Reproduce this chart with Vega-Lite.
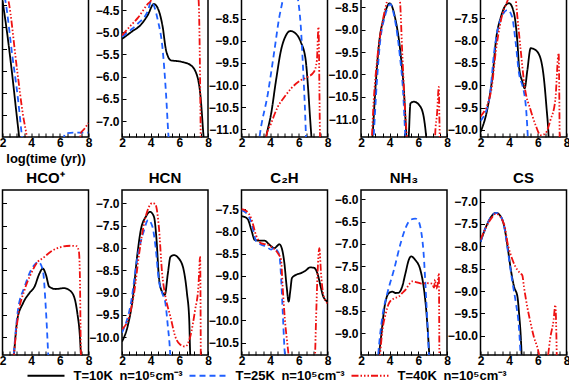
{
"$schema": "https://vega.github.io/schema/vega-lite/v6.json",
"padding": {"left": -2.5, "top": -29, "right": 0, "bottom": 0},
"background": "white",
"data": {"values": [
{"p":"T1","s":"10K","x":2.0,"y":-7.9},{"p":"T1","s":"10K","x":2.34,"y":-8.68},{"p":"T1","s":"10K","x":2.68,"y":-9.59},{"p":"T1","s":"10K","x":2.95,"y":-10.39},{"p":"T1","s":"10K","x":3.16,"y":-11.0},{"p":"T1","s":"10K","x":3.35,"y":-11.6},
{"p":"T1","s":"25K","x":2.0,"y":-7.6},{"p":"T1","s":"25K","x":2.2,"y":-7.9},{"p":"T1","s":"25K","x":2.68,"y":-9.14},{"p":"T1","s":"25K","x":3.09,"y":-10.16},{"p":"T1","s":"25K","x":3.36,"y":-11.0},{"p":"T1","s":"25K","x":3.5,"y":-11.4},{"p":"T1","s":"25K","x":6.1,"y":-11.6},{"p":"T1","s":"25K","x":6.35,"y":-10.92},{"p":"T1","s":"25K","x":7.0,"y":-10.9},{"p":"T1","s":"25K","x":8.0,"y":-10.9},
{"p":"T1","s":"40K","x":2.0,"y":-7.5},{"p":"T1","s":"40K","x":2.41,"y":-7.89},{"p":"T1","s":"40K","x":3.02,"y":-9.48},{"p":"T1","s":"40K","x":3.43,"y":-10.5},{"p":"T1","s":"40K","x":3.7,"y":-11.0},{"p":"T1","s":"40K","x":3.9,"y":-11.5},{"p":"T1","s":"40K","x":7.35,"y":-11.5},{"p":"T1","s":"40K","x":7.45,"y":-10.92},{"p":"T1","s":"40K","x":7.7,"y":-10.82},{"p":"T1","s":"40K","x":8.0,"y":-10.68},
{"p":"T2","s":"10K","x":2.0,"y":-5.15},{"p":"T2","s":"10K","x":2.66,"y":-4.99},{"p":"T2","s":"10K","x":3.34,"y":-4.82},{"p":"T2","s":"10K","x":3.8,"y":-4.61},{"p":"T2","s":"10K","x":4.22,"y":-4.36},{"p":"T2","s":"10K","x":4.5,"y":-4.46},{"p":"T2","s":"10K","x":4.84,"y":-4.88},{"p":"T2","s":"10K","x":5.07,"y":-5.4},{"p":"T2","s":"10K","x":5.41,"y":-5.63},{"p":"T2","s":"10K","x":6.1,"y":-5.66},{"p":"T2","s":"10K","x":6.79,"y":-5.74},{"p":"T2","s":"10K","x":7.26,"y":-6.0},{"p":"T2","s":"10K","x":7.48,"y":-6.45},{"p":"T2","s":"10K","x":7.67,"y":-7.27},{"p":"T2","s":"10K","x":7.75,"y":-7.6},
{"p":"T2","s":"25K","x":2.0,"y":-5.1},{"p":"T2","s":"25K","x":2.6,"y":-4.95},{"p":"T2","s":"25K","x":3.12,"y":-4.8},{"p":"T2","s":"25K","x":3.8,"y":-4.52},{"p":"T2","s":"25K","x":4.03,"y":-4.31},{"p":"T2","s":"25K","x":4.5,"y":-4.73},{"p":"T2","s":"25K","x":4.84,"y":-5.4},{"p":"T2","s":"25K","x":5.07,"y":-6.38},{"p":"T2","s":"25K","x":5.23,"y":-7.28},{"p":"T2","s":"25K","x":5.3,"y":-7.6},
{"p":"T2","s":"40K","x":2.0,"y":-5.07},{"p":"T2","s":"40K","x":2.6,"y":-4.85},{"p":"T2","s":"40K","x":3.12,"y":-4.67},{"p":"T2","s":"40K","x":3.8,"y":-4.36},{"p":"T2","s":"40K","x":4.03,"y":-4.28},{"p":"T2","s":"40K","x":4.3,"y":-4.0},{"p":"T2","s":"40K","x":5.5,"y":-3.9},{"p":"T2","s":"40K","x":7.2,"y":-3.9},{"p":"T2","s":"40K","x":7.35,"y":-4.3},{"p":"T2","s":"40K","x":7.5,"y":-7.6},
{"p":"T3","s":"10K","x":3.5,"y":-11.6},{"p":"T3","s":"10K","x":3.72,"y":-11.17},{"p":"T3","s":"10K","x":4.07,"y":-10.64},{"p":"T3","s":"10K","x":4.41,"y":-9.89},{"p":"T3","s":"10K","x":4.76,"y":-9.21},{"p":"T3","s":"10K","x":5.1,"y":-8.88},{"p":"T3","s":"10K","x":5.4,"y":-8.78},{"p":"T3","s":"10K","x":5.79,"y":-8.84},{"p":"T3","s":"10K","x":6.14,"y":-9.03},{"p":"T3","s":"10K","x":6.48,"y":-9.44},{"p":"T3","s":"10K","x":6.64,"y":-10.04},{"p":"T3","s":"10K","x":6.78,"y":-10.72},{"p":"T3","s":"10K","x":6.88,"y":-11.17},{"p":"T3","s":"10K","x":7.0,"y":-11.6},
{"p":"T3","s":"25K","x":3.1,"y":-11.6},{"p":"T3","s":"25K","x":3.26,"y":-11.17},{"p":"T3","s":"25K","x":3.84,"y":-10.19},{"p":"T3","s":"25K","x":4.3,"y":-9.21},{"p":"T3","s":"25K","x":4.64,"y":-8.46},{"p":"T3","s":"25K","x":4.83,"y":-8.16},{"p":"T3","s":"25K","x":5.0,"y":-7.85},{"p":"T3","s":"25K","x":5.4,"y":-7.6},{"p":"T3","s":"25K","x":5.8,"y":-7.85},{"p":"T3","s":"25K","x":5.95,"y":-8.09},{"p":"T3","s":"25K","x":6.14,"y":-8.69},{"p":"T3","s":"25K","x":6.29,"y":-9.59},{"p":"T3","s":"25K","x":6.45,"y":-10.72},{"p":"T3","s":"25K","x":6.5,"y":-11.17},{"p":"T3","s":"25K","x":6.6,"y":-11.6},
{"p":"T3","s":"40K","x":3.6,"y":-11.6},{"p":"T3","s":"40K","x":3.72,"y":-11.17},{"p":"T3","s":"40K","x":4.07,"y":-10.86},{"p":"T3","s":"40K","x":4.53,"y":-10.49},{"p":"T3","s":"40K","x":4.99,"y":-10.27},{"p":"T3","s":"40K","x":5.45,"y":-10.08},{"p":"T3","s":"40K","x":6.14,"y":-9.89},{"p":"T3","s":"40K","x":6.6,"y":-9.82},{"p":"T3","s":"40K","x":7.06,"y":-9.7},{"p":"T3","s":"40K","x":7.26,"y":-9.44},{"p":"T3","s":"40K","x":7.37,"y":-8.69},{"p":"T3","s":"40K","x":7.48,"y":-11.17},{"p":"T3","s":"40K","x":7.55,"y":-11.6},
{"p":"T4","s":"10K","x":2.7,"y":-11.8},{"p":"T4","s":"10K","x":2.8,"y":-11.4},{"p":"T4","s":"10K","x":3.03,"y":-10.2},{"p":"T4","s":"10K","x":3.26,"y":-9.31},{"p":"T4","s":"10K","x":3.61,"y":-8.71},{"p":"T4","s":"10K","x":4.0,"y":-8.41},{"p":"T4","s":"10K","x":4.41,"y":-8.78},{"p":"T4","s":"10K","x":4.76,"y":-9.53},{"p":"T4","s":"10K","x":4.99,"y":-10.35},{"p":"T4","s":"10K","x":5.17,"y":-11.4},{"p":"T4","s":"10K","x":5.25,"y":-11.8},{"p":"T4","s":"10K","x":5.33,"y":-11.4},{"p":"T4","s":"10K","x":5.45,"y":-10.65},{"p":"T4","s":"10K","x":5.68,"y":-10.61},{"p":"T4","s":"10K","x":6.14,"y":-10.72},{"p":"T4","s":"10K","x":6.41,"y":-11.02},{"p":"T4","s":"10K","x":6.55,"y":-11.4},{"p":"T4","s":"10K","x":6.65,"y":-11.8},
{"p":"T4","s":"25K","x":2.8,"y":-11.8},{"p":"T4","s":"25K","x":2.88,"y":-11.4},{"p":"T4","s":"25K","x":3.1,"y":-10.2},{"p":"T4","s":"25K","x":3.32,"y":-9.31},{"p":"T4","s":"25K","x":3.66,"y":-8.71},{"p":"T4","s":"25K","x":4.05,"y":-8.43},{"p":"T4","s":"25K","x":4.35,"y":-8.75},{"p":"T4","s":"25K","x":4.7,"y":-9.55},{"p":"T4","s":"25K","x":4.93,"y":-10.35},{"p":"T4","s":"25K","x":5.1,"y":-11.4},{"p":"T4","s":"25K","x":5.2,"y":-11.8},
{"p":"T4","s":"40K","x":2.7,"y":-11.8},{"p":"T4","s":"40K","x":2.76,"y":-11.4},{"p":"T4","s":"40K","x":2.85,"y":-10.8},{"p":"T4","s":"40K","x":3.15,"y":-9.6},{"p":"T4","s":"40K","x":3.53,"y":-8.78},{"p":"T4","s":"40K","x":3.81,"y":-8.37},{"p":"T4","s":"40K","x":4.3,"y":-8.0},{"p":"T4","s":"40K","x":4.71,"y":-8.34},{"p":"T4","s":"40K","x":4.87,"y":-9.46},{"p":"T4","s":"40K","x":5.1,"y":-10.95},{"p":"T4","s":"40K","x":5.2,"y":-11.4},{"p":"T4","s":"40K","x":5.3,"y":-11.8},{"p":"T4","s":"40K","x":7.1,"y":-11.8},{"p":"T4","s":"40K","x":7.2,"y":-11.2},{"p":"T4","s":"40K","x":7.3,"y":-10.9},{"p":"T4","s":"40K","x":7.43,"y":-10.28},{"p":"T4","s":"40K","x":7.47,"y":-11.0},{"p":"T4","s":"40K","x":7.52,"y":-11.8},
{"p":"T5","s":"10K","x":2.0,"y":-10.05},{"p":"T5","s":"10K","x":2.51,"y":-9.48},{"p":"T5","s":"10K","x":2.86,"y":-8.73},{"p":"T5","s":"10K","x":3.08,"y":-7.99},{"p":"T5","s":"10K","x":3.43,"y":-7.46},{"p":"T5","s":"10K","x":3.77,"y":-7.2},{"p":"T5","s":"10K","x":4.0,"y":-7.16},{"p":"T5","s":"10K","x":4.34,"y":-7.39},{"p":"T5","s":"10K","x":4.58,"y":-8.06},{"p":"T5","s":"10K","x":4.69,"y":-8.59},{"p":"T5","s":"10K","x":4.92,"y":-8.92},{"p":"T5","s":"10K","x":5.08,"y":-9.07},{"p":"T5","s":"10K","x":5.27,"y":-8.66},{"p":"T5","s":"10K","x":5.5,"y":-8.17},{"p":"T5","s":"10K","x":5.84,"y":-8.21},{"p":"T5","s":"10K","x":6.19,"y":-8.4},{"p":"T5","s":"10K","x":6.41,"y":-8.81},{"p":"T5","s":"10K","x":6.6,"y":-9.48},{"p":"T5","s":"10K","x":6.74,"y":-10.08},{"p":"T5","s":"10K","x":6.8,"y":-10.5},
{"p":"T5","s":"25K","x":2.0,"y":-9.8},{"p":"T5","s":"25K","x":2.62,"y":-9.3},{"p":"T5","s":"25K","x":2.97,"y":-8.21},{"p":"T5","s":"25K","x":3.31,"y":-7.61},{"p":"T5","s":"25K","x":3.89,"y":-7.31},{"p":"T5","s":"25K","x":4.2,"y":-7.46},{"p":"T5","s":"25K","x":4.46,"y":-8.06},{"p":"T5","s":"25K","x":4.69,"y":-8.74},{"p":"T5","s":"25K","x":4.92,"y":-9.0},{"p":"T5","s":"25K","x":5.0,"y":-9.1},{"p":"T5","s":"25K","x":5.22,"y":-9.7},{"p":"T5","s":"25K","x":5.3,"y":-10.16},{"p":"T5","s":"25K","x":5.35,"y":-10.5},
{"p":"T5","s":"40K","x":2.0,"y":-9.7},{"p":"T5","s":"40K","x":2.74,"y":-9.13},{"p":"T5","s":"40K","x":3.08,"y":-8.21},{"p":"T5","s":"40K","x":3.43,"y":-7.54},{"p":"T5","s":"40K","x":3.89,"y":-7.1},{"p":"T5","s":"40K","x":4.2,"y":-6.85},{"p":"T5","s":"40K","x":4.46,"y":-7.09},{"p":"T5","s":"40K","x":4.58,"y":-7.49},{"p":"T5","s":"40K","x":4.81,"y":-8.23},{"p":"T5","s":"40K","x":5.08,"y":-9.03},{"p":"T5","s":"40K","x":5.5,"y":-9.56},{"p":"T5","s":"40K","x":5.84,"y":-9.89},{"p":"T5","s":"40K","x":6.19,"y":-10.12},{"p":"T5","s":"40K","x":6.53,"y":-10.08},{"p":"T5","s":"40K","x":6.88,"y":-9.78},{"p":"T5","s":"40K","x":7.22,"y":-9.33},{"p":"T5","s":"40K","x":7.45,"y":-8.28},{"p":"T5","s":"40K","x":7.53,"y":-10.5},
{"p":"B1","s":"10K","x":2.75,"y":-10.6},{"p":"B1","s":"10K","x":2.8,"y":-10.4},{"p":"B1","s":"10K","x":3.03,"y":-9.61},{"p":"B1","s":"10K","x":3.43,"y":-9.24},{"p":"B1","s":"10K","x":3.88,"y":-9.01},{"p":"B1","s":"10K","x":4.23,"y":-8.87},{"p":"B1","s":"10K","x":4.58,"y":-8.57},{"p":"B1","s":"10K","x":4.81,"y":-8.46},{"p":"B1","s":"10K","x":5.03,"y":-8.6},{"p":"B1","s":"10K","x":5.26,"y":-8.87},{"p":"B1","s":"10K","x":5.72,"y":-8.92},{"p":"B1","s":"10K","x":6.3,"y":-8.9},{"p":"B1","s":"10K","x":6.64,"y":-8.94},{"p":"B1","s":"10K","x":6.99,"y":-9.09},{"p":"B1","s":"10K","x":7.22,"y":-9.46},{"p":"B1","s":"10K","x":7.4,"y":-9.99},{"p":"B1","s":"10K","x":7.47,"y":-10.4},{"p":"B1","s":"10K","x":7.5,"y":-10.6},
{"p":"B1","s":"25K","x":2.73,"y":-10.6},{"p":"B1","s":"25K","x":2.78,"y":-10.4},{"p":"B1","s":"25K","x":3.08,"y":-9.39},{"p":"B1","s":"25K","x":3.54,"y":-8.87},{"p":"B1","s":"25K","x":4.0,"y":-8.49},{"p":"B1","s":"25K","x":4.34,"y":-8.34},{"p":"B1","s":"25K","x":4.5,"y":-8.31},{"p":"B1","s":"25K","x":4.81,"y":-8.49},{"p":"B1","s":"25K","x":5.03,"y":-9.39},{"p":"B1","s":"25K","x":5.19,"y":-10.4},{"p":"B1","s":"25K","x":5.22,"y":-10.6},
{"p":"B1","s":"40K","x":2.75,"y":-10.6},{"p":"B1","s":"40K","x":2.8,"y":-10.4},{"p":"B1","s":"40K","x":3.08,"y":-9.54},{"p":"B1","s":"40K","x":3.54,"y":-8.94},{"p":"B1","s":"40K","x":4.0,"y":-8.57},{"p":"B1","s":"40K","x":4.46,"y":-8.31},{"p":"B1","s":"40K","x":4.81,"y":-8.23},{"p":"B1","s":"40K","x":5.38,"y":-8.08},{"p":"B1","s":"40K","x":6.07,"y":-7.98},{"p":"B1","s":"40K","x":6.76,"y":-7.95},{"p":"B1","s":"40K","x":7.17,"y":-7.96},{"p":"B1","s":"40K","x":7.33,"y":-8.08},{"p":"B1","s":"40K","x":7.4,"y":-8.64},{"p":"B1","s":"40K","x":7.47,"y":-10.4},{"p":"B1","s":"40K","x":7.5,"y":-10.6},
{"p":"B2","s":"10K","x":2.0,"y":-10.1},{"p":"B2","s":"10K","x":2.39,"y":-9.76},{"p":"B2","s":"10K","x":2.74,"y":-9.16},{"p":"B2","s":"10K","x":3.08,"y":-8.12},{"p":"B2","s":"10K","x":3.31,"y":-7.6},{"p":"B2","s":"10K","x":3.66,"y":-7.3},{"p":"B2","s":"10K","x":3.96,"y":-7.19},{"p":"B2","s":"10K","x":4.23,"y":-7.3},{"p":"B2","s":"10K","x":4.41,"y":-7.82},{"p":"B2","s":"10K","x":4.57,"y":-8.64},{"p":"B2","s":"10K","x":4.74,"y":-8.94},{"p":"B2","s":"10K","x":4.99,"y":-9.05},{"p":"B2","s":"10K","x":5.2,"y":-8.57},{"p":"B2","s":"10K","x":5.38,"y":-8.2},{"p":"B2","s":"10K","x":5.61,"y":-8.16},{"p":"B2","s":"10K","x":5.95,"y":-8.23},{"p":"B2","s":"10K","x":6.3,"y":-8.49},{"p":"B2","s":"10K","x":6.53,"y":-9.01},{"p":"B2","s":"10K","x":6.69,"y":-9.61},{"p":"B2","s":"10K","x":6.76,"y":-10.4},{"p":"B2","s":"10K","x":6.8,"y":-10.6},
{"p":"B2","s":"25K","x":2.0,"y":-9.9},{"p":"B2","s":"25K","x":2.62,"y":-9.24},{"p":"B2","s":"25K","x":3.08,"y":-8.2},{"p":"B2","s":"25K","x":3.54,"y":-7.6},{"p":"B2","s":"25K","x":3.82,"y":-7.37},{"p":"B2","s":"25K","x":4.12,"y":-7.52},{"p":"B2","s":"25K","x":4.34,"y":-7.97},{"p":"B2","s":"25K","x":4.57,"y":-8.72},{"p":"B2","s":"25K","x":4.8,"y":-9.01},{"p":"B2","s":"25K","x":5.03,"y":-9.24},{"p":"B2","s":"25K","x":5.2,"y":-9.76},{"p":"B2","s":"25K","x":5.33,"y":-10.21},{"p":"B2","s":"25K","x":5.4,"y":-10.6},
{"p":"B2","s":"40K","x":2.0,"y":-9.82},{"p":"B2","s":"40K","x":2.5,"y":-9.54},{"p":"B2","s":"40K","x":2.85,"y":-9.0},{"p":"B2","s":"40K","x":3.2,"y":-8.12},{"p":"B2","s":"40K","x":3.54,"y":-7.45},{"p":"B2","s":"40K","x":3.88,"y":-7.08},{"p":"B2","s":"40K","x":4.12,"y":-6.99},{"p":"B2","s":"40K","x":4.34,"y":-7.03},{"p":"B2","s":"40K","x":4.57,"y":-7.52},{"p":"B2","s":"40K","x":4.8,"y":-8.57},{"p":"B2","s":"40K","x":5.03,"y":-9.09},{"p":"B2","s":"40K","x":5.38,"y":-9.54},{"p":"B2","s":"40K","x":5.72,"y":-9.99},{"p":"B2","s":"40K","x":6.07,"y":-10.17},{"p":"B2","s":"40K","x":6.41,"y":-10.21},{"p":"B2","s":"40K","x":6.76,"y":-9.99},{"p":"B2","s":"40K","x":7.1,"y":-9.39},{"p":"B2","s":"40K","x":7.33,"y":-8.87},{"p":"B2","s":"40K","x":7.45,"y":-8.2},{"p":"B2","s":"40K","x":7.5,"y":-10.6},
{"p":"B3","s":"10K","x":2.0,"y":-7.66},{"p":"B3","s":"10K","x":2.25,"y":-7.68},{"p":"B3","s":"10K","x":2.46,"y":-7.74},{"p":"B3","s":"10K","x":2.69,"y":-7.97},{"p":"B3","s":"10K","x":2.92,"y":-8.19},{"p":"B3","s":"10K","x":3.26,"y":-8.21},{"p":"B3","s":"10K","x":3.61,"y":-8.21},{"p":"B3","s":"10K","x":3.95,"y":-8.3},{"p":"B3","s":"10K","x":4.3,"y":-8.38},{"p":"B3","s":"10K","x":4.48,"y":-8.33},{"p":"B3","s":"10K","x":4.64,"y":-8.29},{"p":"B3","s":"10K","x":4.81,"y":-8.38},{"p":"B3","s":"10K","x":4.99,"y":-8.71},{"p":"B3","s":"10K","x":5.15,"y":-9.24},{"p":"B3","s":"10K","x":5.29,"y":-9.58},{"p":"B3","s":"10K","x":5.4,"y":-9.35},{"p":"B3","s":"10K","x":5.52,"y":-9.05},{"p":"B3","s":"10K","x":5.79,"y":-8.98},{"p":"B3","s":"10K","x":6.14,"y":-8.94},{"p":"B3","s":"10K","x":6.48,"y":-8.88},{"p":"B3","s":"10K","x":6.78,"y":-8.81},{"p":"B3","s":"10K","x":7.06,"y":-8.82},{"p":"B3","s":"10K","x":7.33,"y":-8.98},{"p":"B3","s":"10K","x":7.52,"y":-9.24},{"p":"B3","s":"10K","x":7.7,"y":-9.46},{"p":"B3","s":"10K","x":8.0,"y":-9.58},
{"p":"B3","s":"25K","x":2.0,"y":-7.53},{"p":"B3","s":"25K","x":2.34,"y":-7.59},{"p":"B3","s":"25K","x":2.69,"y":-7.8},{"p":"B3","s":"25K","x":3.03,"y":-8.23},{"p":"B3","s":"25K","x":3.38,"y":-8.3},{"p":"B3","s":"25K","x":3.72,"y":-8.34},{"p":"B3","s":"25K","x":4.07,"y":-8.41},{"p":"B3","s":"25K","x":4.3,"y":-8.36},{"p":"B3","s":"25K","x":4.48,"y":-8.43},{"p":"B3","s":"25K","x":4.64,"y":-8.53},{"p":"B3","s":"25K","x":4.76,"y":-9.02},{"p":"B3","s":"25K","x":4.87,"y":-9.76},{"p":"B3","s":"25K","x":4.99,"y":-10.59},{"p":"B3","s":"25K","x":5.03,"y":-10.8},{"p":"B3","s":"25K","x":5.06,"y":-11.0},
{"p":"B3","s":"40K","x":2.0,"y":-7.5},{"p":"B3","s":"40K","x":2.34,"y":-7.54},{"p":"B3","s":"40K","x":2.69,"y":-7.72},{"p":"B3","s":"40K","x":3.03,"y":-8.1},{"p":"B3","s":"40K","x":3.38,"y":-8.27},{"p":"B3","s":"40K","x":3.84,"y":-8.3},{"p":"B3","s":"40K","x":4.18,"y":-8.37},{"p":"B3","s":"40K","x":4.53,"y":-8.49},{"p":"B3","s":"40K","x":4.76,"y":-8.64},{"p":"B3","s":"40K","x":4.87,"y":-9.24},{"p":"B3","s":"40K","x":5.03,"y":-9.99},{"p":"B3","s":"40K","x":5.22,"y":-10.59},{"p":"B3","s":"40K","x":5.29,"y":-10.8},{"p":"B3","s":"40K","x":5.35,"y":-11.0},{"p":"B3","s":"40K","x":7.1,"y":-11.0},{"p":"B3","s":"40K","x":7.13,"y":-10.8},{"p":"B3","s":"40K","x":7.2,"y":-10.0},{"p":"B3","s":"40K","x":7.3,"y":-9.0},{"p":"B3","s":"40K","x":7.43,"y":-8.38},{"p":"B3","s":"40K","x":7.55,"y":-8.95},{"p":"B3","s":"40K","x":7.7,"y":-9.4},{"p":"B3","s":"40K","x":8.0,"y":-9.62},
{"p":"B4","s":"10K","x":3.2,"y":-9.7},{"p":"B4","s":"10K","x":3.26,"y":-9.49},{"p":"B4","s":"10K","x":3.43,"y":-9.0},{"p":"B4","s":"10K","x":3.61,"y":-8.48},{"p":"B4","s":"10K","x":3.95,"y":-8.1},{"p":"B4","s":"10K","x":4.19,"y":-8.07},{"p":"B4","s":"10K","x":4.41,"y":-8.1},{"p":"B4","s":"10K","x":4.64,"y":-8.09},{"p":"B4","s":"10K","x":4.87,"y":-7.96},{"p":"B4","s":"10K","x":5.1,"y":-7.66},{"p":"B4","s":"10K","x":5.33,"y":-7.36},{"p":"B4","s":"10K","x":5.49,"y":-7.28},{"p":"B4","s":"10K","x":5.79,"y":-7.36},{"p":"B4","s":"10K","x":6.14,"y":-7.58},{"p":"B4","s":"10K","x":6.37,"y":-7.96},{"p":"B4","s":"10K","x":6.55,"y":-8.48},{"p":"B4","s":"10K","x":6.67,"y":-9.0},{"p":"B4","s":"10K","x":6.78,"y":-9.55},{"p":"B4","s":"10K","x":6.85,"y":-9.8},
{"p":"B4","s":"25K","x":3.15,"y":-9.7},{"p":"B4","s":"25K","x":3.2,"y":-9.49},{"p":"B4","s":"25K","x":3.49,"y":-8.63},{"p":"B4","s":"25K","x":3.84,"y":-8.1},{"p":"B4","s":"25K","x":4.3,"y":-7.58},{"p":"B4","s":"25K","x":4.76,"y":-6.99},{"p":"B4","s":"25K","x":5.1,"y":-6.65},{"p":"B4","s":"25K","x":5.45,"y":-6.46},{"p":"B4","s":"25K","x":5.79,"y":-6.43},{"p":"B4","s":"25K","x":5.98,"y":-6.47},{"p":"B4","s":"25K","x":6.14,"y":-6.62},{"p":"B4","s":"25K","x":6.37,"y":-7.22},{"p":"B4","s":"25K","x":6.55,"y":-8.25},{"p":"B4","s":"25K","x":6.67,"y":-9.0},{"p":"B4","s":"25K","x":6.74,"y":-9.49},{"p":"B4","s":"25K","x":6.8,"y":-9.8},
{"p":"B4","s":"40K","x":3.28,"y":-9.7},{"p":"B4","s":"40K","x":3.33,"y":-9.49},{"p":"B4","s":"40K","x":3.49,"y":-8.95},{"p":"B4","s":"40K","x":3.72,"y":-8.57},{"p":"B4","s":"40K","x":3.95,"y":-8.33},{"p":"B4","s":"40K","x":4.3,"y":-8.22},{"p":"B4","s":"40K","x":4.64,"y":-8.18},{"p":"B4","s":"40K","x":4.87,"y":-8.1},{"p":"B4","s":"40K","x":5.1,"y":-8.03},{"p":"B4","s":"40K","x":5.33,"y":-7.92},{"p":"B4","s":"40K","x":5.56,"y":-7.84},{"p":"B4","s":"40K","x":5.91,"y":-7.86},{"p":"B4","s":"40K","x":6.26,"y":-7.89},{"p":"B4","s":"40K","x":6.6,"y":-7.88},{"p":"B4","s":"40K","x":6.95,"y":-7.89},{"p":"B4","s":"40K","x":7.1,"y":-7.98},{"p":"B4","s":"40K","x":7.17,"y":-7.8},{"p":"B4","s":"40K","x":7.24,"y":-8.0},{"p":"B4","s":"40K","x":7.33,"y":-7.95},{"p":"B4","s":"40K","x":7.43,"y":-7.66},{"p":"B4","s":"40K","x":7.47,"y":-9.8},
{"p":"B5","s":"10K","x":2.0,"y":-7.9},{"p":"B5","s":"10K","x":2.39,"y":-7.56},{"p":"B5","s":"10K","x":2.74,"y":-7.34},{"p":"B5","s":"10K","x":3.08,"y":-7.25},{"p":"B5","s":"10K","x":3.43,"y":-7.34},{"p":"B5","s":"10K","x":3.66,"y":-7.56},{"p":"B5","s":"10K","x":3.89,"y":-8.01},{"p":"B5","s":"10K","x":4.12,"y":-8.53},{"p":"B5","s":"10K","x":4.34,"y":-8.9},{"p":"B5","s":"10K","x":4.58,"y":-9.13},{"p":"B5","s":"10K","x":4.69,"y":-9.5},{"p":"B5","s":"10K","x":4.81,"y":-10.02},{"p":"B5","s":"10K","x":4.88,"y":-10.5},
{"p":"B5","s":"25K","x":2.0,"y":-7.9},{"p":"B5","s":"25K","x":2.39,"y":-7.56},{"p":"B5","s":"25K","x":2.74,"y":-7.34},{"p":"B5","s":"25K","x":3.08,"y":-7.25},{"p":"B5","s":"25K","x":3.43,"y":-7.34},{"p":"B5","s":"25K","x":3.66,"y":-7.57},{"p":"B5","s":"25K","x":3.89,"y":-8.06},{"p":"B5","s":"25K","x":4.23,"y":-8.81},{"p":"B5","s":"25K","x":4.46,"y":-9.25},{"p":"B5","s":"25K","x":4.69,"y":-9.85},{"p":"B5","s":"25K","x":4.81,"y":-10.5},
{"p":"B5","s":"40K","x":2.0,"y":-7.85},{"p":"B5","s":"40K","x":2.74,"y":-7.38},{"p":"B5","s":"40K","x":3.08,"y":-7.27},{"p":"B5","s":"40K","x":3.66,"y":-7.52},{"p":"B5","s":"40K","x":3.89,"y":-7.93},{"p":"B5","s":"40K","x":4.23,"y":-8.3},{"p":"B5","s":"40K","x":4.58,"y":-8.53},{"p":"B5","s":"40K","x":4.81,"y":-8.61},{"p":"B5","s":"40K","x":4.92,"y":-8.65},{"p":"B5","s":"40K","x":5.03,"y":-8.9},{"p":"B5","s":"40K","x":5.26,"y":-9.35},{"p":"B5","s":"40K","x":5.5,"y":-9.72},{"p":"B5","s":"40K","x":5.72,"y":-10.02},{"p":"B5","s":"40K","x":5.96,"y":-10.25},{"p":"B5","s":"40K","x":6.19,"y":-10.5},{"p":"B5","s":"40K","x":6.65,"y":-10.5},{"p":"B5","s":"40K","x":6.88,"y":-10.02},{"p":"B5","s":"40K","x":7.1,"y":-9.65},{"p":"B5","s":"40K","x":7.22,"y":-9.31},{"p":"B5","s":"40K","x":7.33,"y":-10.6}
]},
"columns": 5,
"bounds": "flush",
"spacing": {"row": 53, "column": 33.5},
"concat": [
{"width": 86, "height": 165, "transform": [{"filter": "datum.p == 'T1'"}],
 "mark": {"type": "line", "clip": true, "interpolate": "monotone", "strokeWidth": 1.8},
 "encoding": {
  "x": {"field": "x", "type": "quantitative", "scale": {"domain": [2, 8], "nice": false, "zero": false}, "title": "log(time (yr))", "axis": {"values": [2,2.5,3,3.5,4,4.5,5,5.5,6,6.5,7,7.5,8], "labelExpr": "datum.value % 2 == 0 ? format(datum.value, 'd') : ''"}},
  "y": {"field": "y", "type": "quantitative", "scale": {"domain": [-11.0, -7.25], "nice": false, "zero": false}, "title": null, "axis": {"values": [-10.5,-10,-9.5,-9,-8.5,-8,-7.5], "labels": false}},
  "color": {"field": "s", "type": "nominal", "scale": {"domain": ["10K","25K","40K"], "range": ["#000000","#1f5fff","#ee1111"]}, "legend": {"orient": "none", "legendX": 24, "legendY": 384, "direction": "horizontal", "title": null, "symbolType": "stroke", "symbolSize": 1369, "symbolStrokeWidth": 2, "labelFontSize": 13, "labelFontWeight": "bold", "labelOffset": 8, "columnPadding": 2, "labelLimit": 300, "labelExpr": "'T=' + datum.label + '\u2002n=10\u2075cm\u207b\u00b3'"}},
  "strokeDash": {"field": "s", "type": "nominal", "scale": {"domain": ["10K","25K","40K"], "range": [[1,0],[6,4],[7,2,1.5,2,1.5,2,1.5,2]]}, "legend": {"orient": "none", "legendX": 24, "legendY": 384, "direction": "horizontal", "title": null, "symbolType": "stroke", "symbolSize": 1369, "symbolStrokeWidth": 2, "labelFontSize": 13, "labelFontWeight": "bold", "labelOffset": 8, "columnPadding": 2, "labelLimit": 300, "labelExpr": "'T=' + datum.label + '\u2002n=10\u2075cm\u207b\u00b3'"}}
 }},
{"width": 86, "height": 165, "transform": [{"filter": "datum.p == 'T2'"}],
 "mark": {"type": "line", "clip": true, "interpolate": "monotone", "strokeWidth": 1.8},
 "encoding": {
  "x": {"field": "x", "type": "quantitative", "scale": {"domain": [2, 8], "nice": false, "zero": false}, "title": null, "axis": {"values": [2,2.5,3,3.5,4,4.5,5,5.5,6,6.5,7,7.5,8], "labelExpr": "datum.value % 2 == 0 ? format(datum.value, 'd') : ''"}},
  "y": {"field": "y", "type": "quantitative", "scale": {"domain": [-7.36, -3.64], "nice": false, "zero": false}, "title": null, "axis": {"values": [-7,-6.5,-6,-5.5,-5,-4.5]}},
  "color": {"field": "s", "type": "nominal", "scale": {"domain": ["10K","25K","40K"], "range": ["#000000","#1f5fff","#ee1111"]}},
  "strokeDash": {"field": "s", "type": "nominal", "scale": {"domain": ["10K","25K","40K"], "range": [[1,0],[6,4],[7,2,1.5,2,1.5,2,1.5,2]]}}
 }},
{"width": 86, "height": 165, "transform": [{"filter": "datum.p == 'T3'"}],
 "mark": {"type": "line", "clip": true, "interpolate": "monotone", "strokeWidth": 1.8},
 "encoding": {
  "x": {"field": "x", "type": "quantitative", "scale": {"domain": [2, 8], "nice": false, "zero": false}, "title": null, "axis": {"values": [2,2.5,3,3.5,4,4.5,5,5.5,6,6.5,7,7.5,8], "labelExpr": "datum.value % 2 == 0 ? format(datum.value, 'd') : ''"}},
  "y": {"field": "y", "type": "quantitative", "scale": {"domain": [-11.17, -7.45], "nice": false, "zero": false}, "title": null, "axis": {"values": [-11,-10.5,-10,-9.5,-9,-8.5]}},
  "color": {"field": "s", "type": "nominal", "scale": {"domain": ["10K","25K","40K"], "range": ["#000000","#1f5fff","#ee1111"]}},
  "strokeDash": {"field": "s", "type": "nominal", "scale": {"domain": ["10K","25K","40K"], "range": [[1,0],[6,4],[7,2,1.5,2,1.5,2,1.5,2]]}}
 }},
{"width": 86, "height": 165, "transform": [{"filter": "datum.p == 'T4'"}],
 "mark": {"type": "line", "clip": true, "interpolate": "monotone", "strokeWidth": 1.8},
 "encoding": {
  "x": {"field": "x", "type": "quantitative", "scale": {"domain": [2, 8], "nice": false, "zero": false}, "title": null, "axis": {"values": [2,2.5,3,3.5,4,4.5,5,5.5,6,6.5,7,7.5,8], "labelExpr": "datum.value % 2 == 0 ? format(datum.value, 'd') : ''"}},
  "y": {"field": "y", "type": "quantitative", "scale": {"domain": [-11.4, -7.71], "nice": false, "zero": false}, "title": null, "axis": {"values": [-11,-10.5,-10,-9.5,-9,-8.5]}},
  "color": {"field": "s", "type": "nominal", "scale": {"domain": ["10K","25K","40K"], "range": ["#000000","#1f5fff","#ee1111"]}},
  "strokeDash": {"field": "s", "type": "nominal", "scale": {"domain": ["10K","25K","40K"], "range": [[1,0],[6,4],[7,2,1.5,2,1.5,2,1.5,2]]}}
 }},
{"width": 86, "height": 165, "transform": [{"filter": "datum.p == 'T5'"}],
 "mark": {"type": "line", "clip": true, "interpolate": "monotone", "strokeWidth": 1.8},
 "encoding": {
  "x": {"field": "x", "type": "quantitative", "scale": {"domain": [2, 8], "nice": false, "zero": false}, "title": null, "axis": {"values": [2,2.5,3,3.5,4,4.5,5,5.5,6,6.5,7,7.5,8], "labelExpr": "datum.value % 2 == 0 ? format(datum.value, 'd') : ''"}},
  "y": {"field": "y", "type": "quantitative", "scale": {"domain": [-10.16, -6.46], "nice": false, "zero": false}, "title": null, "axis": {"values": [-10,-9.5,-9,-8.5,-8,-7.5]}},
  "color": {"field": "s", "type": "nominal", "scale": {"domain": ["10K","25K","40K"], "range": ["#000000","#1f5fff","#ee1111"]}},
  "strokeDash": {"field": "s", "type": "nominal", "scale": {"domain": ["10K","25K","40K"], "range": [[1,0],[6,4],[7,2,1.5,2,1.5,2,1.5,2]]}}
 }},
{"width": 86, "height": 165, "title": "HCO\u207a", "transform": [{"filter": "datum.p == 'B1'"}],
 "mark": {"type": "line", "clip": true, "interpolate": "monotone", "strokeWidth": 1.8},
 "encoding": {
  "x": {"field": "x", "type": "quantitative", "scale": {"domain": [2, 8], "nice": false, "zero": false}, "title": null, "axis": {"values": [2,2.5,3,3.5,4,4.5,5,5.5,6,6.5,7,7.5,8], "labelExpr": "datum.value % 2 == 0 ? format(datum.value, 'd') : ''"}},
  "y": {"field": "y", "type": "quantitative", "scale": {"domain": [-10.4, -6.7], "nice": false, "zero": false}, "title": null, "axis": {"values": [-10,-9.5,-9,-8.5,-8,-7.5,-7], "labels": false}},
  "color": {"field": "s", "type": "nominal", "scale": {"domain": ["10K","25K","40K"], "range": ["#000000","#1f5fff","#ee1111"]}},
  "strokeDash": {"field": "s", "type": "nominal", "scale": {"domain": ["10K","25K","40K"], "range": [[1,0],[6,4],[7,2,1.5,2,1.5,2,1.5,2]]}}
 }},
{"width": 86, "height": 165, "title": "HCN", "transform": [{"filter": "datum.p == 'B2'"}],
 "mark": {"type": "line", "clip": true, "interpolate": "monotone", "strokeWidth": 1.8},
 "encoding": {
  "x": {"field": "x", "type": "quantitative", "scale": {"domain": [2, 8], "nice": false, "zero": false}, "title": null, "axis": {"values": [2,2.5,3,3.5,4,4.5,5,5.5,6,6.5,7,7.5,8], "labelExpr": "datum.value % 2 == 0 ? format(datum.value, 'd') : ''"}},
  "y": {"field": "y", "type": "quantitative", "scale": {"domain": [-10.4, -6.7], "nice": false, "zero": false}, "title": null, "axis": {"values": [-10,-9.5,-9,-8.5,-8,-7.5,-7]}},
  "color": {"field": "s", "type": "nominal", "scale": {"domain": ["10K","25K","40K"], "range": ["#000000","#1f5fff","#ee1111"]}},
  "strokeDash": {"field": "s", "type": "nominal", "scale": {"domain": ["10K","25K","40K"], "range": [[1,0],[6,4],[7,2,1.5,2,1.5,2,1.5,2]]}}
 }},
{"width": 86, "height": 165, "title": "C\u2082H", "transform": [{"filter": "datum.p == 'B3'"}],
 "mark": {"type": "line", "clip": true, "interpolate": "monotone", "strokeWidth": 1.8},
 "encoding": {
  "x": {"field": "x", "type": "quantitative", "scale": {"domain": [2, 8], "nice": false, "zero": false}, "title": null, "axis": {"values": [2,2.5,3,3.5,4,4.5,5,5.5,6,6.5,7,7.5,8], "labelExpr": "datum.value % 2 == 0 ? format(datum.value, 'd') : ''"}},
  "y": {"field": "y", "type": "quantitative", "scale": {"domain": [-10.78, -7.07], "nice": false, "zero": false}, "title": null, "axis": {"values": [-10.5,-10,-9.5,-9,-8.5,-8,-7.5]}},
  "color": {"field": "s", "type": "nominal", "scale": {"domain": ["10K","25K","40K"], "range": ["#000000","#1f5fff","#ee1111"]}},
  "strokeDash": {"field": "s", "type": "nominal", "scale": {"domain": ["10K","25K","40K"], "range": [[1,0],[6,4],[7,2,1.5,2,1.5,2,1.5,2]]}}
 }},
{"width": 86, "height": 165, "title": "NH\u2083", "transform": [{"filter": "datum.p == 'B4'"}],
 "mark": {"type": "line", "clip": true, "interpolate": "monotone", "strokeWidth": 1.8},
 "encoding": {
  "x": {"field": "x", "type": "quantitative", "scale": {"domain": [2, 8], "nice": false, "zero": false}, "title": null, "axis": {"values": [2,2.5,3,3.5,4,4.5,5,5.5,6,6.5,7,7.5,8], "labelExpr": "datum.value % 2 == 0 ? format(datum.value, 'd') : ''"}},
  "y": {"field": "y", "type": "quantitative", "scale": {"domain": [-9.49, -5.79], "nice": false, "zero": false}, "title": null, "axis": {"values": [-9,-8.5,-8,-7.5,-7,-6.5,-6]}},
  "color": {"field": "s", "type": "nominal", "scale": {"domain": ["10K","25K","40K"], "range": ["#000000","#1f5fff","#ee1111"]}},
  "strokeDash": {"field": "s", "type": "nominal", "scale": {"domain": ["10K","25K","40K"], "range": [[1,0],[6,4],[7,2,1.5,2,1.5,2,1.5,2]]}}
 }},
{"width": 86, "height": 165, "title": "CS", "transform": [{"filter": "datum.p == 'B5'"}],
 "mark": {"type": "line", "clip": true, "interpolate": "monotone", "strokeWidth": 1.8},
 "encoding": {
  "x": {"field": "x", "type": "quantitative", "scale": {"domain": [2, 8], "nice": false, "zero": false}, "title": null, "axis": {"values": [2,2.5,3,3.5,4,4.5,5,5.5,6,6.5,7,7.5,8], "labelExpr": "datum.value % 2 == 0 ? format(datum.value, 'd') : ''"}},
  "y": {"field": "y", "type": "quantitative", "scale": {"domain": [-10.43, -6.74], "nice": false, "zero": false}, "title": null, "axis": {"values": [-10,-9.5,-9,-8.5,-8,-7.5,-7]}},
  "color": {"field": "s", "type": "nominal", "scale": {"domain": ["10K","25K","40K"], "range": ["#000000","#1f5fff","#ee1111"]}},
  "strokeDash": {"field": "s", "type": "nominal", "scale": {"domain": ["10K","25K","40K"], "range": [[1,0],[6,4],[7,2,1.5,2,1.5,2,1.5,2]]}}
 }}
],
"resolve": {"scale": {"x": "independent", "y": "independent"}},
"config": {
 "font": "Liberation Sans",
 "view": {"stroke": "#000000", "strokeWidth": 1.5},
 "axis": {"labelFont": "Liberation Sans", "labelFontWeight": "bold", "labelFontSize": 12, "labelColor": "#000000", "tickColor": "#000000", "tickSize": -4, "tickWidth": 1, "labelPadding": 7, "domain": false, "grid": false, "labelOverlap": false, "titleFont": "Liberation Sans", "titleFontWeight": "bold", "titleFontSize": 13, "titleColor": "#000000", "titlePadding": 4},
 "axisX": {"labelFlush": false, "labelPadding": 4},
 "title": {"font": "Liberation Sans", "fontSize": 15, "fontWeight": "bold", "color": "#000000", "offset": 4},
 "legend": {"labelFont": "Liberation Sans", "labelColor": "#000000", "padding": 0}
}
}
